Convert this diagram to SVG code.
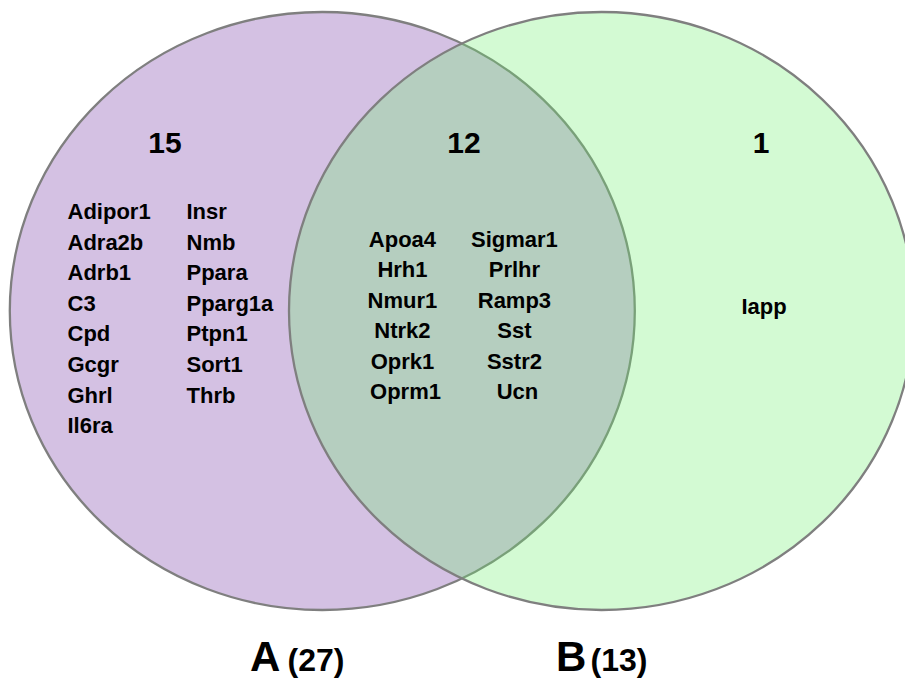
<svg xmlns="http://www.w3.org/2000/svg" width="905" height="680" viewBox="0 0 905 680">
  <style>
    .set { stroke: #7f7f7f; stroke-width: 2.3; }
    .count { font-family: "Liberation Sans", Arial, sans-serif; font-weight: bold; font-size: 30px; fill: #000; text-anchor: middle; }
    .gene { font-family: "Liberation Sans", Arial, sans-serif; font-weight: bold; font-size: 22px; fill: #000; }
    .mid { text-anchor: middle; }
    .title { font-family: "Liberation Sans", Arial, sans-serif; font-weight: bold; fill: #000; }
  </style>

  <rect width="905" height="680" fill="#ffffff"/>

  <!-- Set A (left) -->
  <g id="set-a">
    <ellipse class="set" cx="322.3" cy="311" rx="312.5" ry="299" fill="#d4c1e3"/>
  </g>

  <!-- Set B (right), translucent so the overlap blends -->
  <g id="set-b">
    <ellipse cx="601.5" cy="311" rx="312.5" ry="299" fill="#6cee6c" fill-opacity="0.3"/>
    <ellipse class="set" cx="601.5" cy="311" rx="312.5" ry="299" fill="none"/>
  </g>

  <!-- Only in A -->
  <g id="only-a">
    <text class="count" x="165" y="153">15</text>
    <text class="gene" x="67.5">
      <tspan x="67.5" y="219">Adipor1</tspan>
      <tspan x="67.5" y="249.6">Adra2b</tspan>
      <tspan x="67.5" y="280.2">Adrb1</tspan>
      <tspan x="67.5" y="310.8">C3</tspan>
      <tspan x="67.5" y="341.4">Cpd</tspan>
      <tspan x="67.5" y="372">Gcgr</tspan>
      <tspan x="67.5" y="402.6">Ghrl</tspan>
      <tspan x="67.5" y="433.2">Il6ra</tspan>
    </text>
    <text class="gene" x="186.5">
      <tspan x="186.5" y="219">Insr</tspan>
      <tspan x="186.5" y="249.6">Nmb</tspan>
      <tspan x="186.5" y="280.2">Ppara</tspan>
      <tspan x="186.5" y="310.8">Pparg1a</tspan>
      <tspan x="186.5" y="341.4">Ptpn1</tspan>
      <tspan x="186.5" y="372">Sort1</tspan>
      <tspan x="186.5" y="402.6">Thrb</tspan>
    </text>
  </g>

  <!-- Shared by A and B -->
  <g id="both">
    <text class="count" x="464" y="153">12</text>
    <text class="gene mid">
      <tspan x="405.5" y="246.7">Apoa4</tspan>
      <tspan x="405.5" y="277.2">Hrh1</tspan>
      <tspan x="405.5" y="307.7">Nmur1</tspan>
      <tspan x="405.5" y="338.2">Ntrk2</tspan>
      <tspan x="405.5" y="368.7">Oprk1</tspan>
      <tspan x="405.5" y="399.2">Oprm1</tspan>
    </text>
    <text class="gene mid">
      <tspan x="517.5" y="246.7">Sigmar1</tspan>
      <tspan x="517.5" y="277.2">Prlhr</tspan>
      <tspan x="517.5" y="307.7">Ramp3</tspan>
      <tspan x="517.5" y="338.2">Sst</tspan>
      <tspan x="517.5" y="368.7">Sstr2</tspan>
      <tspan x="517.5" y="399.2">Ucn</tspan>
    </text>
  </g>

  <!-- Only in B -->
  <g id="only-b">
    <text class="count" x="761" y="153">1</text>
    <text class="gene mid" x="764" y="314">Iapp</text>
  </g>

  <!-- Set titles -->
  <g id="titles">
    <text class="title" y="671"><tspan x="250" font-size="42">A</tspan><tspan x="287.5" font-size="32">(27)</tspan></text>
    <text class="title" y="671"><tspan x="556" font-size="42">B</tspan><tspan x="590.5" font-size="32">(13)</tspan></text>
  </g>
</svg>
